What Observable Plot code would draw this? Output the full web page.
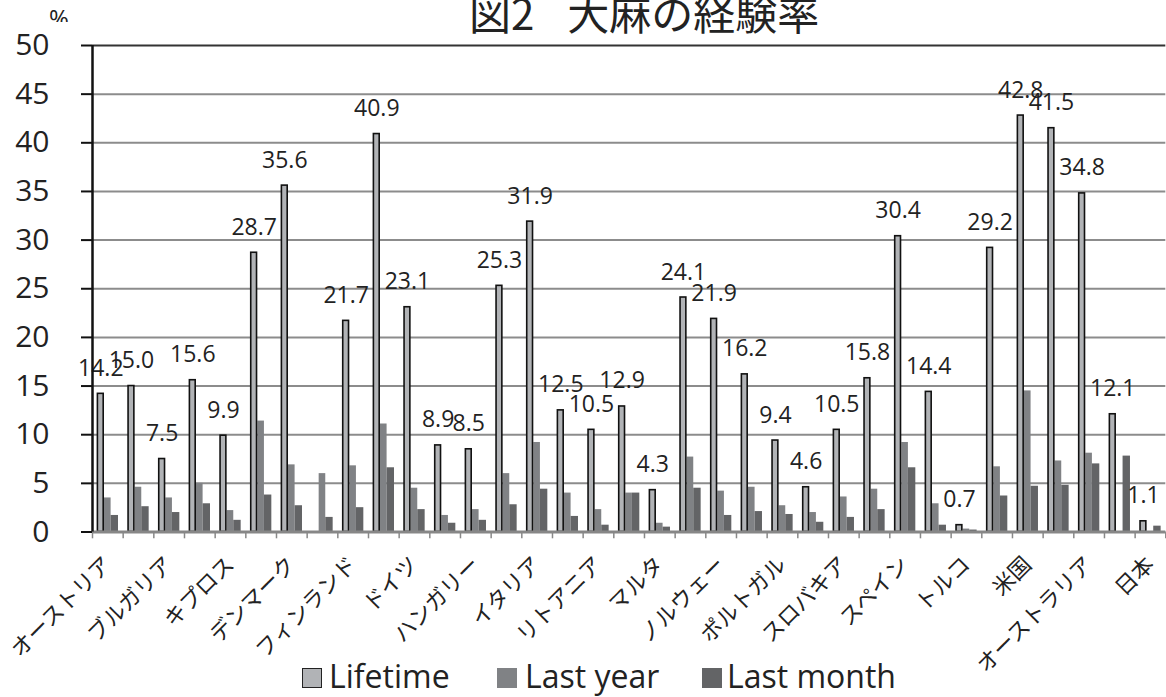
<!DOCTYPE html>
<html>
<head>
<meta charset="utf-8">
<script src="https://cdn.jsdelivr.net/npm/d3@7"></script>
<script src="https://cdn.jsdelivr.net/npm/@observablehq/plot@0.6"></script>
<style>
  html, body { margin: 0; padding: 0; background: #fff; }
  #wrap { position: relative; width: 1166px; height: 697px; overflow: hidden; background: #fff; }
  #chart { position: absolute; left: 0; top: 0; }
  .abs { position: absolute; white-space: pre; line-height: 1; color: #222; }
  #title { left: 469px; top: -9px; font-family: "Noto Sans CJK JP", sans-serif; font-size: 42px; }
  #title .gap { display: inline-block; width: 33px; }
  #unit { left: 49px; top: 6px; height: 16px; overflow: hidden; font-family: "Open Sans", sans-serif; font-size: 24px; }
  .sw { position: absolute; width: 20px; height: 20px; box-sizing: border-box; }
  .lg { font-family: "Open Sans", sans-serif; font-size: 32px; top: 660px; }
</style>
</head>
<body>
<div id="wrap">
  <div id="chart"></div>
  <div id="title" class="abs">図2<span class="gap"></span>大麻の経験率</div>
  <div id="unit" class="abs">%</div>
  <div id="legend"></div>
</div>
<script>
// ---- data ----
const categories = ["オーストリア","ベルギー","ブルガリア","クロアチア","キプロス","チェコ","デンマーク","エストニア","フィンランド","フランス","ドイツ","ギリシャ","ハンガリー","アイルランド","イタリア","ラトビア","リトアニア","ルクセンブルク","マルタ","オランダ","ノルウェー","ポーランド","ポルトガル","ルーマニア","スロバキア","スロベニア","スペイン","スウェーデン","トルコ","英国","米国","カナダ","オーストラリア","ニュージーランド","日本"];
const lifetime  = [14.2,15.0,7.5,15.6,9.9,28.7,35.6,null,21.7,40.9,23.1,8.9,8.5,25.3,31.9,12.5,10.5,12.9,4.3,24.1,21.9,16.2,9.4,4.6,10.5,15.8,30.4,14.4,0.7,29.2,42.8,41.5,34.8,12.1,1.1];
const lastYear  = [3.5,4.6,3.5,5.0,2.2,11.4,6.9,6.0,6.8,11.1,4.5,1.7,2.3,6.0,9.2,4.0,2.3,4.0,0.9,7.7,4.2,4.6,2.7,2.0,3.6,4.4,9.2,2.9,0.3,6.7,14.5,7.3,8.1,null,null];
const lastMonth = [1.7,2.6,2.0,2.9,1.2,3.8,2.7,1.5,2.5,6.6,2.3,0.9,1.2,2.8,4.4,1.6,0.7,4.0,0.5,4.5,1.7,2.1,1.8,1.0,1.5,2.3,6.6,0.7,0.2,3.7,4.7,4.8,7.0,7.8,0.6];
const seriesNames = ["Lifetime","Last year","Last month"];
const seriesColors = ["#b1b3b6","#808285","#636466"];
const yTicks = [0,5,10,15,20,25,30,35,40,45,50];

// ---- layout ----
const W = 1166, H = 697, ML = 92, MR = 0.7, MT = 45, MB = 165.5;
const B = (W - ML - MR) / categories.length;

const rows = categories.map((c, i) => ({c, lifetime: lifetime[i], lastYear: lastYear[i], lastMonth: lastMonth[i]}));
const shown = categories.filter((c, i) => i % 2 === 0);

const chart = Plot.plot({
  width: W, height: H,
  marginLeft: ML, marginRight: MR, marginTop: MT, marginBottom: MB,
  style: {fontFamily: "'Open Sans', sans-serif", color: "#222", background: "transparent", overflow: "visible"},
  x: {type: "band", domain: categories, padding: 0, round: false, label: null},
  y: {domain: [0, 50], label: null},
  marks: [
    Plot.ruleY(yTicks.filter(v => v > 0 && v < 50), {stroke: "#8c8c8c", strokeWidth: 2}),
    Plot.ruleY([50], {stroke: "#333", strokeWidth: 2}),
    Plot.barY(rows, {x: "c", y: "lastYear", fill: seriesColors[1], insetLeft: 12, insetRight: B - 18.6}),
    Plot.barY(rows, {x: "c", y: "lastMonth", fill: seriesColors[2], insetLeft: 18.6, insetRight: B - 26}),
    Plot.barY(rows, {x: "c", y: "lifetime", fill: seriesColors[0], stroke: "#111", strokeWidth: 1.6, insetLeft: 5.4, insetRight: B - 11.2}),
    Plot.text(rows.filter(d => d.lifetime != null), {x: "c", y: "lifetime", text: d => d.lifetime.toFixed(1), dx: 8.3 - B / 2, dy: -18, lineAnchor: "bottom", fontSize: 23, fill: "#222"}),
    Plot.ruleY([0], {stroke: "#878787", strokeWidth: 3}),
    Plot.ruleX(categories, {x: d => d, dx: -B / 2, y1: 0, y2: -0.7, stroke: "#888", strokeWidth: 1.5}),
    Plot.ruleX(categories.slice(-1), {x: d => d, dx: B / 2, y1: 0, y2: -0.7, stroke: "#888", strokeWidth: 1.5}),
    Plot.ruleX(categories.slice(0, 1), {x: d => d, dx: -B / 2, y1: 0, y2: 50, stroke: "#111", strokeWidth: 2.5}),
    Plot.axisY({ticks: yTicks, tickSize: 11, tickPadding: 32, fontSize: 30, tickFormat: d => String(d), stroke: "#111", strokeWidth: 2, label: null}),
    Plot.axisX(shown, {tickSize: 0, tickRotate: -45, tickPadding: 10, dx: 0, dy: 19, fontSize: 22, fontFamily: "'Noto Sans CJK JP', sans-serif", label: null})
  ]
});
document.getElementById("chart").appendChild(chart);

// ---- legend ----
const legend = document.getElementById("legend");
const lgPos = [{sw: 302, tx: 329}, {sw: 497, tx: 525}, {sw: 702, tx: 727}];
seriesNames.forEach((name, i) => {
  const sw = document.createElement("div");
  sw.className = "sw";
  sw.style.left = lgPos[i].sw + "px";
  sw.style.top = "668px";
  sw.style.background = seriesColors[i];
  if (i === 0) sw.style.border = "1.5px solid #222";
  legend.appendChild(sw);
  const t = document.createElement("div");
  t.className = "abs lg";
  t.style.left = lgPos[i].tx + "px";
  t.textContent = name;
  legend.appendChild(t);
});
</script>
</body>
</html>
